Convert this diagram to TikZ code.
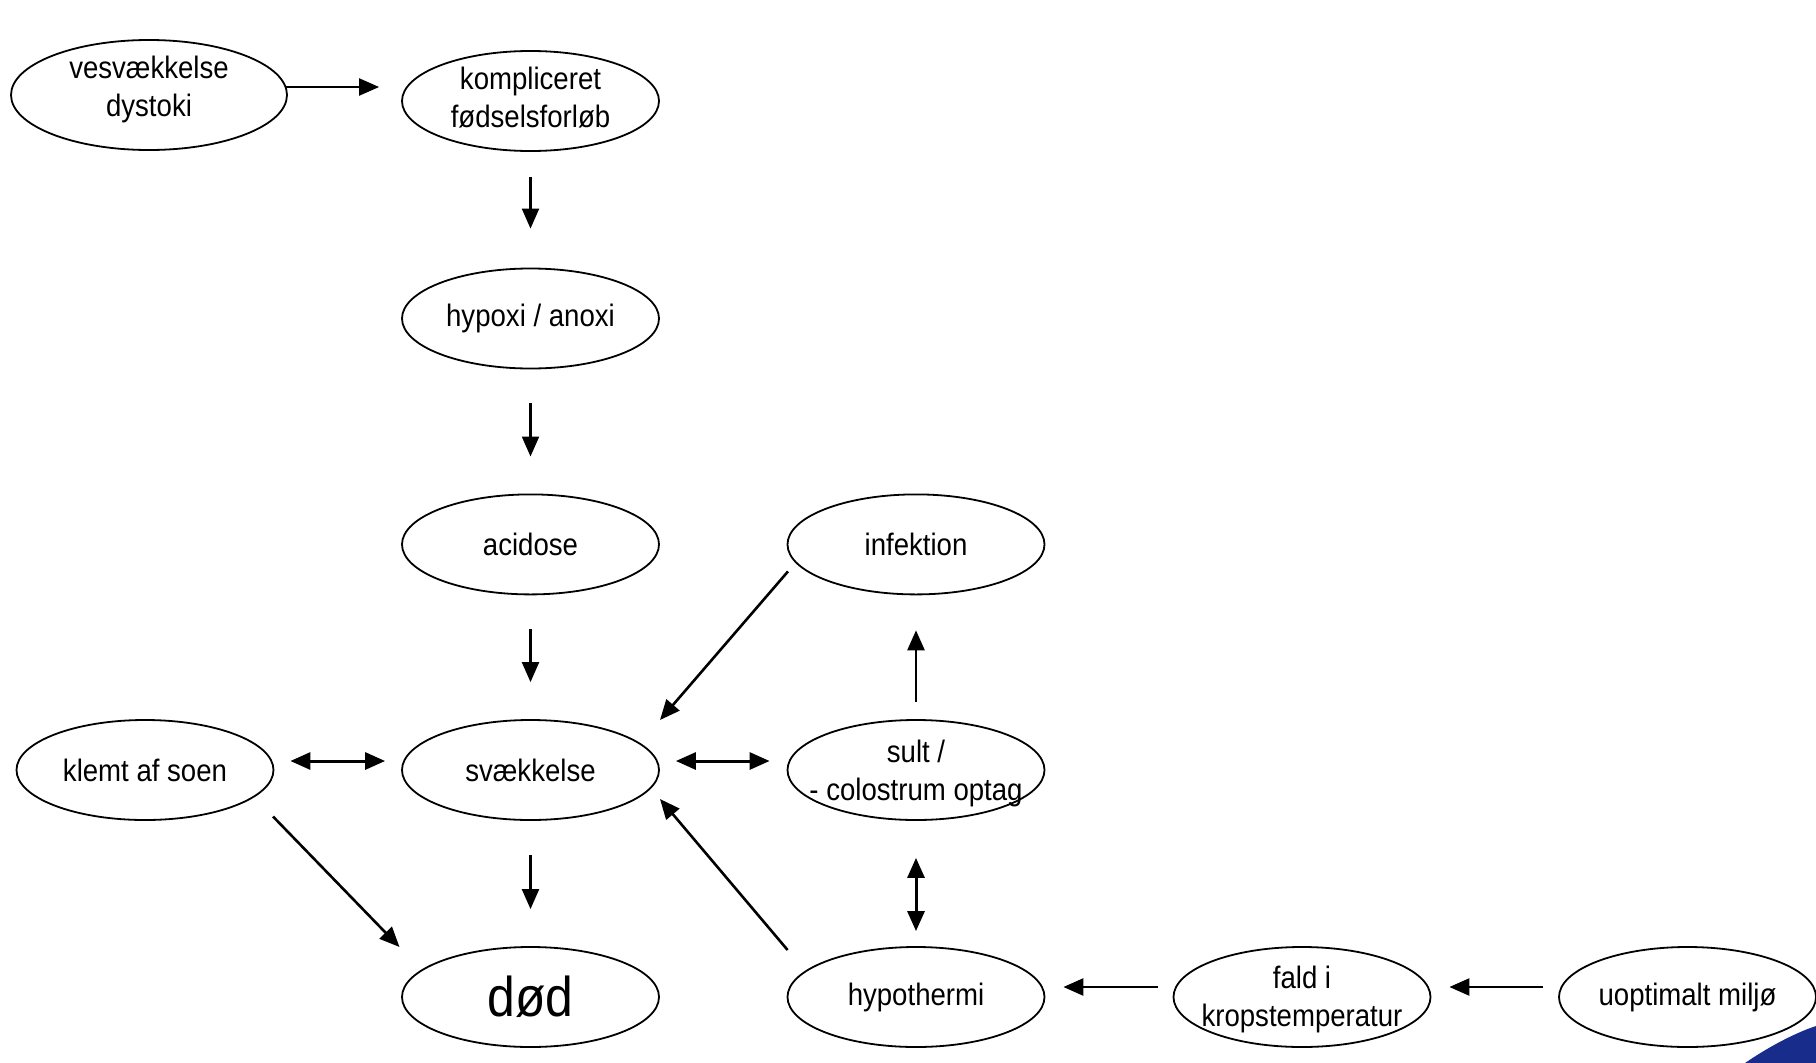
\documentclass[tikz,border=0pt]{standalone}
\usepackage{fontspec}
\setmainfont[FakeStretch=0.89]{Liberation Sans}
\usetikzlibrary{shapes.geometric,arrows.meta,calc}
\definecolor{logoblue}{RGB}{24,44,140}
\begin{document}
\begin{tikzpicture}[x=1pt,y=-1pt,
  el/.style={draw, ellipse, line width=1.8pt, minimum width=257pt, minimum height=100pt, inner sep=0pt},
  txt/.style={font=\fontsize{31}{38}\selectfont, align=center, inner sep=0pt},
  big/.style={font=\fontsize{56}{60}\selectfont, inner sep=0pt},
  arr/.style={-{Triangle[length=20pt,width=17pt]}, line width=2.2pt},
  darr/.style={{Triangle[length=20pt,width=17pt]}-{Triangle[length=20pt,width=17pt]}, line width=3pt}]
\fill[white] (0,0) rectangle (1816,1063);
\useasboundingbox (0,0) rectangle (1816,1063);
% logo fragment
\fill[logoblue] (1745,1063) .. controls (1770,1046) and (1795,1033) .. (1816,1026) -- (1816,1063) -- cycle;
% nodes
\node[el, minimum width=276pt, minimum height=110pt] (ves) at (149,95) {};
\node[txt] (vest) at ($(ves)+(0,-6)$) {vesvækkelse\\dystoki};
\node[el] (komp) at (530.5,101) {};
\node[txt] (kompt) at ($(komp)+(0,-3)$) {kompliceret\\fødselsforløb};
\node[el] (hyp) at (530.5,318.5) {};
\node[txt] (hypt) at (hyp) {hypoxi / anoxi};
\node[el] (acid) at (530.5,544.4) {};
\node[txt] (acidt) at (acid) {acidose};
\node[el] (inf) at (916,544.4) {};
\node[txt] (inft) at (inf) {infektion};
\node[el] (klemt) at (145,770) {};
\node[txt] (klemtt) at (klemt) {klemt af soen};
\node[el] (svk) at (530.5,770) {};
\node[txt] (svkt) at (svk) {svækkelse};
\node[el] (sult) at (916,770) {};
\node[txt] (sultt) at ($(sult)+(0,3)$) {sult /\\- colostrum optag};
\node[el] (dod) at (530.5,997) {};
\node[big] (dodt) at (dod) {død};
\node[el] (hypo) at (916,997) {};
\node[txt] (hypot) at (hypo) {hypothermi};
\node[el] (fald) at (1302,997) {};
\node[txt] (faldt) at ($(fald)+(0,2)$) {fald i\\kropstemperatur};
\node[el] (uopt) at (1687.5,997) {};
\node[txt] (uoptt) at (uopt) {uoptimalt miljø};
% connectors
\draw[arr] ($(ves.east)+(-1.5,-8)$) -- ($(komp.west)+(-22,-14)$);
\draw[arr, shorten <=25pt, shorten >=39pt] (komp) -- (hyp);
\draw[arr, shorten <=34pt, shorten >=37pt] (hyp) -- (acid);
\draw[arr, shorten <=34pt, shorten >=37pt] (acid) -- (svk);
\draw[arr, shorten <=34pt, shorten >=37pt] (svk) -- (dod);
\draw[darr, shorten <=16pt, shorten >=16pt] ([yshift=9pt]klemt.east) -- ([yshift=9pt]svk.west);
\draw[darr, shorten <=16pt, shorten >=17pt] ([yshift=9pt]svk.east) -- ([yshift=9pt]sult.west);
\draw[arr, line width=2.6pt, shorten <=17pt, shorten >=35pt] (sult) -- (inf);
\draw[darr, shorten <=37pt, shorten >=15pt] (sult) -- (hypo);
\draw[arr, line width=2.6pt] ($(inf)+(-128,27)$) -- ($(svk)+(129.5,-50)$);
\draw[arr, line width=2.6pt] ($(hypo)+(-128.4,-47)$) -- ($(svk)+(129.5,29)$);
\draw[arr, line width=2.6pt] ($(klemt)+(128,46.5)$) -- ($(dod)+(-131,-50)$);
\draw[arr, line width=2.6pt, shorten <=15pt, shorten >=18pt] ([yshift=10pt]fald.west) -- ([yshift=10pt]hypo.east);
\draw[arr, line width=2.6pt, shorten <=15pt, shorten >=18pt] ([yshift=10pt]uopt.west) -- ([yshift=10pt]fald.east);
\end{tikzpicture}
\end{document}
